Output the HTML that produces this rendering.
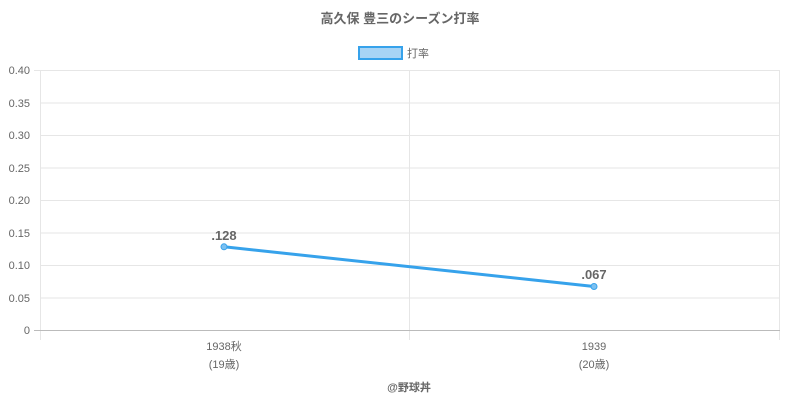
<!DOCTYPE html>
<html><head><meta charset="utf-8"><style>
html,body{margin:0;padding:0;background:#fff;}
svg{display:block;font-family:"Liberation Sans","Noto Sans CJK JP",sans-serif;}
</style></head><body>
<svg width="800" height="400" viewBox="0 0 800 400">
<text x="400" y="23" text-anchor="middle" font-size="13" font-weight="bold" fill="#666">高久保 豊三のシーズン打率</text>
<rect x="359" y="47" width="43" height="12" fill="#a8d4f5" stroke="#36a2eb" stroke-width="2"/>
<text x="407" y="57" font-size="11" fill="#666">打率</text>
<g stroke="#e6e6e6" stroke-width="1">
<line x1="40" y1="70.5" x2="780" y2="70.5"/>
<line x1="40" y1="103" x2="780" y2="103"/>
<line x1="40" y1="135.5" x2="780" y2="135.5"/>
<line x1="40" y1="168" x2="780" y2="168"/>
<line x1="40" y1="200.5" x2="780" y2="200.5"/>
<line x1="40" y1="233" x2="780" y2="233"/>
<line x1="40" y1="265.5" x2="780" y2="265.5"/>
<line x1="40" y1="298" x2="780" y2="298"/>
<line x1="40.5" y1="70" x2="40.5" y2="340"/>
<line x1="409.5" y1="70" x2="409.5" y2="340"/>
<line x1="779.5" y1="70" x2="779.5" y2="340"/>
<line x1="34" y1="70.5" x2="40" y2="70.5"/>
</g>
<line x1="34" y1="330.5" x2="780" y2="330.5" stroke="#bbb"/>
<g font-size="11" fill="#666" text-anchor="end">
<text x="30" y="74">0.40</text><text x="30" y="107">0.35</text><text x="30" y="139">0.30</text>
<text x="30" y="172">0.25</text><text x="30" y="204">0.20</text><text x="30" y="237">0.15</text>
<text x="30" y="269">0.10</text><text x="30" y="302">0.05</text><text x="30" y="334">0</text>
</g>
<g font-size="11" fill="#666" text-anchor="middle">
<text x="224" y="350">1938秋</text><text x="224" y="368">(19歳)</text>
<text x="594" y="350">1939</text><text x="594" y="368">(20歳)</text>
</g>
<text x="409" y="391" text-anchor="middle" font-size="11" font-weight="bold" fill="#666">@野球丼</text>
<line x1="224" y1="246.8" x2="594" y2="286.5" stroke="#36a2eb" stroke-width="3"/>
<circle cx="224" cy="246.8" r="3" fill="#7cc0f0" stroke="#36a2eb"/>
<circle cx="594" cy="286.5" r="3" fill="#7cc0f0" stroke="#36a2eb"/>
<text x="224" y="240" text-anchor="middle" font-size="13" font-weight="bold" fill="#666">.128</text>
<text x="594" y="279" text-anchor="middle" font-size="13" font-weight="bold" fill="#666">.067</text>
</svg>
</body></html>
